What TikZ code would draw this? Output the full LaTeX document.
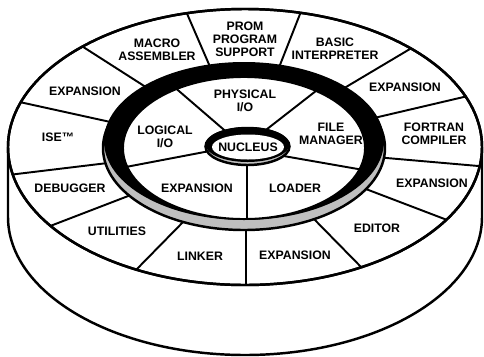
\documentclass[tikz,border=0pt]{standalone}
\usepackage{fontspec}
\setmainfont{Liberation Sans}
\usepackage{tikz}

\begin{document}
\begin{tikzpicture}[x=0.02cm,y=-0.02cm,
  outline/.style={line width=1.4pt},
  divider/.style={line width=1.1pt},
  lbl/.style={font=\fontsize{7}{7.4}\selectfont\bfseries,align=center,inner sep=0pt}]
\useasboundingbox (0,0) rectangle (484,356);

% Cylinder side
\draw[outline] (8,147) -- (8,217) arc[start angle=180, end angle=0, x radius=237, y radius=138] -- (482,147);

% Outer ring
\draw[outline,fill=white] (245,147) ellipse [x radius=237, y radius=138];
\begin{scope}
\clip (245,147) ellipse [x radius=237, y radius=138];
\draw[divider] (211,69) -- (185,9);
\draw[divider] (278,70) -- (302,9);
\draw[divider] (341,90) -- (415,46);
\draw[divider] (374,118) -- (468,96);
\draw[divider] (375,157) -- (490,167);
\draw[divider] (358,186) -- (455,223);
\draw[divider] (311,216) -- (365,271);
\draw[divider] (246,222) -- (246,290);
\draw[divider] (186,219) -- (134,272);
\draw[divider] (136,193) -- (45,228);
\draw[divider] (116,162) -- (0,176);
\draw[divider] (115,123) -- (15,101);
\draw[divider] (152,91) -- (77,43);
\end{scope}
\draw[outline] (245,147) ellipse [x radius=237, y radius=138];

% Middle ring
\draw[outline,fill=gray!50] (244,148) ellipse [x radius=141, y radius=82];
\fill (244,141) ellipse [x radius=140, y radius=79];
\draw[divider,fill=white] (244,148) ellipse [x radius=121, y radius=71];
\begin{scope}
\clip (244,148) ellipse [x radius=121, y radius=71];
\draw[divider] (230,135) -- (165,79);
\draw[divider] (262,133) -- (330,80);
\draw[divider] (275,154.5) -- (375,172);
\draw[divider] (247,150) -- (247,230);
\draw[divider] (215,150) -- (110,170);
\end{scope}

% Nucleus
\draw[outline,fill=gray!50] (247.5,146.5) ellipse [x radius=42, y radius=18.5];
\fill (247.5,144.5) ellipse [x radius=42, y radius=17.5];
\fill[white] (248,147) ellipse [x radius=36, y radius=12.5];

% Labels, outer ring
\node[lbl] (prom) at (245,39) {PROM\\PROGRAM\\SUPPORT};
\node[lbl] (basic) at (335,49) {BASIC\\INTERPRETER};
\node[lbl] (exp1) at (405,87) {EXPANSION};
\node[lbl] (fortran) at (434,134) {FORTRAN\\COMPILER};
\node[lbl] (exp2) at (432,183) {EXPANSION};
\node[lbl] (editor) at (377,228) {EDITOR};
\node[lbl] (exp3) at (295,255) {EXPANSION};
\node[lbl] (linker) at (200,256) {LINKER};
\node[lbl] (utilities) at (117,231) {UTILITIES};
\node[lbl] (debugger) at (70,188) {DEBUGGER};
\node[lbl] (ise) at (58,137) {ISE™};
\node[lbl] (exp4) at (85,91) {EXPANSION};
\node[lbl] (macro) at (157,50) {MACRO\\ASSEMBLER};

% Labels, inner ring
\node[lbl] (physical) at (245,101) {PHYSICAL\\I/O};
\node[lbl] (file) at (331,134) {FILE\\MANAGER};
\node[lbl] (loader) at (295,188) {LOADER};
\node[lbl] (exp5) at (197,188) {EXPANSION};
\node[lbl] (logical) at (165,137) {LOGICAL\\I/O};
\node[lbl] (nucleus) at (248,147) {NUCLEUS};
\end{tikzpicture}
\end{document}
